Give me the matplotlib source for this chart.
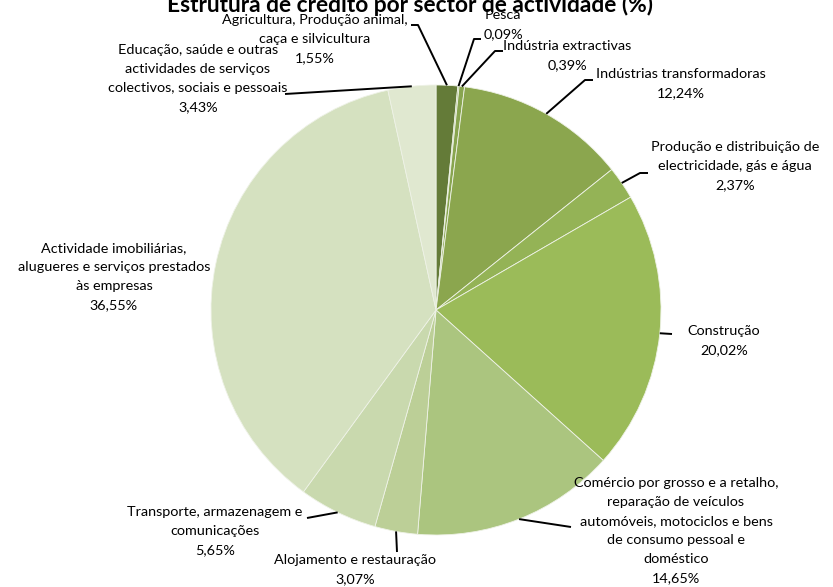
import numpy as np
import matplotlib
matplotlib.use("Agg")
import matplotlib.pyplot as plt

plt.rcParams['font.family'] = ['Lato', 'DejaVu Sans']

# data
sectors = ["Agricultura, Produção animal,\ncaça e silvicultura",
           "Pesca",
           "Indústria extractivas",
           "Indústrias transformadoras",
           "Produção e distribuição de\nelectricidade, gás e água",
           "Construção",
           "Comércio por grosso e a retalho,\nreparação de veículos\nautomóveis, motociclos e bens\nde consumo pessoal e\ndoméstico",
           "Alojamento e restauração",
           "Transporte, armazenagem e\ncomunicações",
           "Actividade imobiliárias,\nalugueres e serviços prestados\nàs empresas",
           "Educação, saúde e outras\nactividades de serviços\ncolectivos, sociais e pessoais"]
shares = [1.55, 0.09, 0.39, 12.24, 2.37, 20.02, 14.65, 3.07, 5.65, 36.55, 3.43]
colors = ["#647b38", "#7e9c48", "#88a54f", "#8ba64e", "#94b356", "#9bbb59",
          "#abc57f", "#bccf97", "#c9d9ae", "#d5e1c0", "#e0e8d0"]

W, H = 833, 587
cx, cy, R = 436, 310, 225


def P(x, y):
    # pixel coords (top-left origin) -> axes coords
    return x, H - y


fig = plt.figure(figsize=(W / 100, H / 100), dpi=100)
ax = fig.add_axes([0, 0, 1, 1])

ax.pie(shares, colors=colors, startangle=90, counterclock=False,
       center=P(cx, cy), radius=R,
       wedgeprops=dict(edgecolor='#eef2e6', linewidth=0.6))
ax.set_xlim(0, W)
ax.set_ylim(0, H)
ax.axis('off')

ax.text(*P(410, 12), "Estrutura de crédito por sector de actividade (%)",
        fontsize=16.4, fontweight='bold', ha='center', va='baseline')

# label layout: (text centre x, y of first line, leader polyline toward pie)
layout = [
    (315, 23, [(411, 25), (418, 25)]),
    (503, 18, [(481, 39), (474, 39)]),
    (567, 49, [(503, 51), (495, 51)]),
    (681, 77, [(593, 80), (585, 80)]),
    (735, 150, [(648, 173), (640, 173)]),
    (724, 334, [(672, 334)]),
    (676, 486, [(571, 527)]),
    (355, 563, [(397, 552)]),
    (215, 515, [(307, 518)]),
    (114, 251, None),
    (198, 53, [(285, 94)]),
]

total = sum(shares)
cum = 0
for name, val, (tx, ty, pts) in zip(sectors, shares, layout):
    mid = (cum + val / 2) / total * 2 * np.pi
    cum += val
    label = name + "\n" + f"{val:.2f}%".replace(".", ",")
    ax.text(*P(tx, ty - 9), label, fontsize=10.4, ha='center', va='top',
            linespacing=1.7)
    if pts:
        ex = cx + R * np.sin(mid)
        ey = cy - R * np.cos(mid)
        xs = [p[0] for p in pts] + [ex]
        ys = [H - p[1] for p in pts] + [H - ey]
        ax.plot(xs, ys, color='black', linewidth=1.4, solid_capstyle='butt')

fig.savefig("out.png", dpi=100)
